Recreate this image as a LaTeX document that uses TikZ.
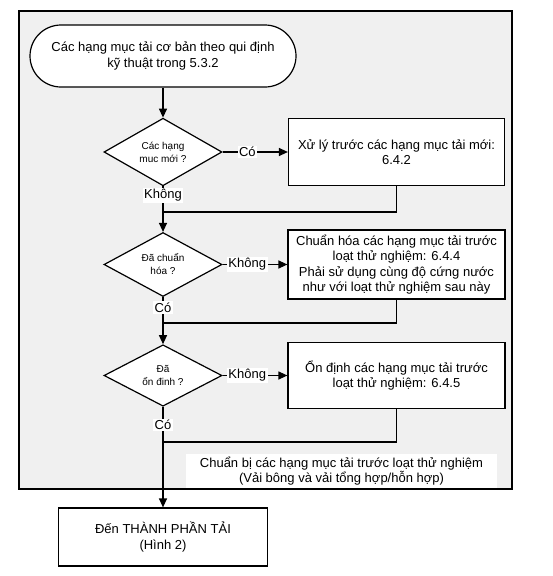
\documentclass[tikz,border=0pt]{standalone}
\usepackage{fontspec}
\setmainfont{Liberation Sans}
\usepackage{tikz}
\usetikzlibrary{arrows.meta, shapes.geometric}
\definecolor{framegray}{RGB}{240,240,240}

\begin{document}
\begin{tikzpicture}[>={Triangle[length=9pt, width=8pt]}, x=1pt, y=-1pt, line width=1.2pt,
        txt/.style={font=\fontsize{13}{15.5}\selectfont, align=center},
        box/.style={txt, draw, fill=white, inner sep=0pt},
        ask/.style={draw, diamond, fill=white, inner sep=0pt, minimum width=118pt, minimum height=57pt,
            align=center, font=\fontsize{10}{13}\selectfont},
        lbl/.style={txt, fill=white, inner sep=1.5pt}]
        \useasboundingbox (0,0) rectangle (553,576);
        \pgfmathsetmacro{\midx}{163}
        \pgfmathsetmacro{\boxx}{396.5}

        \fill [framegray] (19,11) rectangle (512,489);

        \node [box, rounded corners=31pt, minimum width=266pt, minimum height=62pt] (start) at (\midx,56)
            {Các hạng mục tải cơ bản theo qui định\\kỹ thuật trong 5.3.2};
        \node [ask] (new) at (\midx,152) {Các hạng\\muc mới ?};
        \node [box, minimum width=216pt, minimum height=67pt] (pretreat) at (\boxx,152)
            {Xử lý trước các hạng mục tải mới:\\6.4.2};
        \node [ask] (norm) at (\midx,264.5) {Đã chuẩn\\hóa ?};
        \node [box, minimum width=217pt, minimum height=69pt] (normalise) at (\boxx,264.5)
            {Chuẩn hóa các hạng mục tải trước\\loạt thử nghiệm: 6.4.4\\Phải sử dụng cùng độ cứng nước\\như với loạt thử nghiệm sau này};
        \node [ask] (stab) at (\midx,375.5) {Đã\\ổn đinh ?};
        \node [box, minimum width=217pt, minimum height=66pt] (stabilise) at (\boxx,375.5)
            {Ổn định các hạng mục tải trước\\loạt thử nghiệm: 6.4.5};
        \node [txt, fill=white, inner sep=0pt, minimum width=311pt, minimum height=35pt] (prep) at (341.5,471)
            {Chuẩn bị các hạng mục tải trước loạt thử nghiệm\\(Vải bông và vải tổng hợp/hỗn hợp)};
        \node [box, minimum width=209pt, minimum height=58pt] (load) at (\midx,537)
            {Đến THÀNH PHẦN TẢI\\(Hình 2)};

        \draw (19,11) rectangle (512,489);

        \coordinate (join1) at (\midx,212);
        \coordinate (join2) at (\midx,323);
        \coordinate (join3) at (\midx,442);

        \draw [->] (start) -- (new);
        \draw [->] (new) -- node [lbl, pos=0.38] {Có} (pretreat);
        \draw [->] (new) -- node [lbl, pos=0.2] {Không} (norm);
        \draw (pretreat) |- (join1);
        \draw [->] (norm) -- node [lbl, pos=0.38] {Không} (normalise);
        \draw [->] (norm) -- node [lbl, pos=0.22] {Có} (stab);
        \draw (normalise) |- (join2);
        \draw [->] (stab) -- node [lbl, pos=0.38] {Không} (stabilise);
        \draw [->] (stab) -- node [lbl, pos=0.18] {Có} (load);
        \draw (stabilise) |- (join3);
    \end{tikzpicture}
\end{document}
